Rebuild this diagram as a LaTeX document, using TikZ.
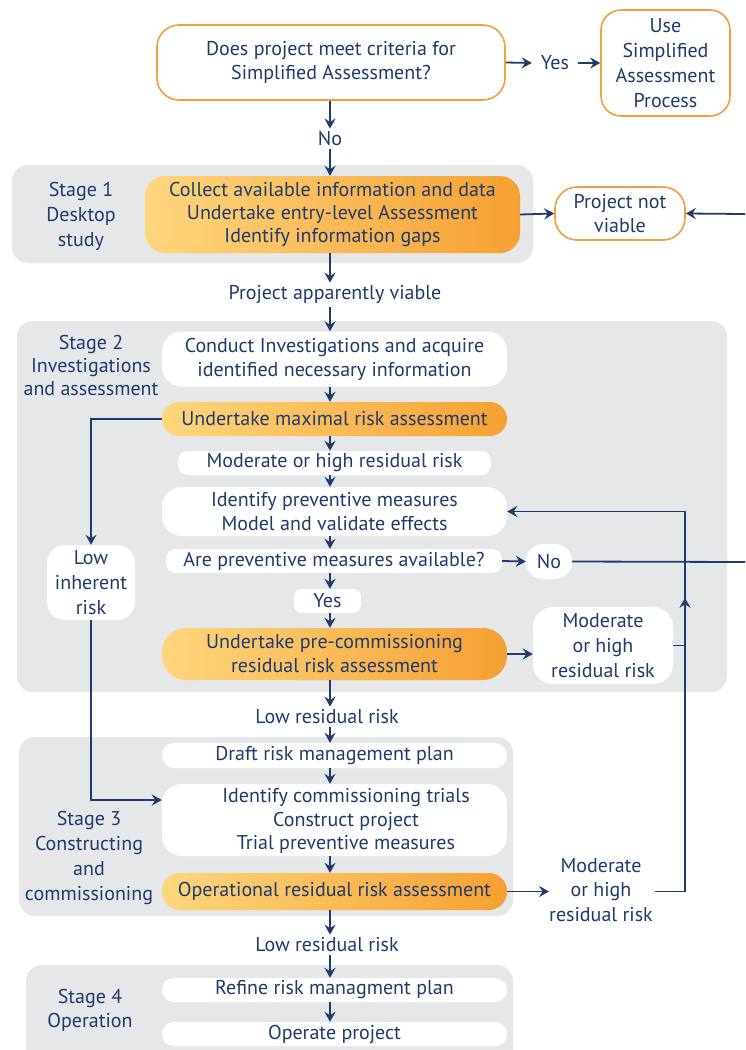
\documentclass[tikz,border=0pt]{standalone}
\usepackage{fontspec}
\setmainfont{PT Sans}
\usetikzlibrary{arrows.meta,calc}
\definecolor{navy}{RGB}{31,58,110}
\definecolor{obord}{RGB}{240,160,60}
\definecolor{stagebg}{RGB}{230,231,232}
\definecolor{gl}{RGB}{254,214,125}
\definecolor{gr}{RGB}{246,160,50}
\begin{document}
\begin{tikzpicture}[x=1pt,y=-1pt,
  font=\fontsize{20}{24}\selectfont,
  base/.style={text=navy, align=center, inner sep=0pt},
  wbox/.style={base, fill=white, rounded corners=12pt},
  obox/.style={base, fill=white, draw=obord, line width=1.6pt, rounded corners=22pt},
  gbox/.style={base, left color=gl, right color=gr, rounded corners=18pt},
  lbl/.style={base, inner sep=3pt},
  arr/.style={draw=navy, line width=1.8pt, -{Stealth[length=10pt,width=11pt,inset=3.5pt]}},
  ln/.style={draw=navy, line width=1.8pt}]
\useasboundingbox (0,0) rectangle (745,1050);
\fill[white] (0,0) rectangle (745,1050);
% stage backgrounds
\fill[stagebg, rounded corners=16pt] (12,165) rectangle (533,263);
\fill[stagebg, rounded corners=16pt] (17,321) rectangle (727,692);
\fill[stagebg, rounded corners=16pt] (19,737) rectangle (513,916);
\fill[stagebg, rounded corners=16pt] (26,965) rectangle (513,1075);
% coordinates
\coordinate (ax) at (330,0);
\coordinate (lx) at (685,0);
\coordinate (eA) at (745,214);
\coordinate (eB) at (745,562);
% top
\node[obox, minimum width=348pt, minimum height=75pt] (q) at (331,62.5) {Does project meet criteria for\\Simplified Assessment?};
\node[lbl, minimum width=46pt] (yes1) at (555,63) {Yes};
\node[obox, minimum width=129pt, minimum height=106pt, rounded corners=20pt] (use) at (665.5,63) {Use\\[1pt]Simplified\\[1pt]Assessment\\[1pt]Process};
\node[lbl] (no1) at (330,139) {No};
% stage 1
\node[base] (s1lab) at (81,216) {Stage 1\\[1pt]Desktop\\[1pt]study};
\node[gbox, minimum width=375pt, minimum height=77pt, rounded corners=20pt] (s1) at (332.5,214.5) {Collect available information and data\\[-1pt]Undertake entry-level Assessment\\[-1pt]Identify information gaps};
\node[obox, minimum width=130pt, minimum height=53pt] (pnv) at (620,213.5) {Project not\\viable};
\node[lbl] (pav) at (335,295) {Project apparently viable};
% stage 2
\node[base] (s2lab) at (91,365) {Stage 2\\[-1pt]Investigations\\[-1pt]and assessment};
\node[wbox, minimum width=345pt, minimum height=55pt, rounded corners=20pt] (conduct) at (334.5,359) {Conduct Investigations and acquire\\identified necessary information};
\node[gbox, minimum width=345pt, minimum height=34pt, rounded corners=17pt] (maximal) at (334.5,419) {Undertake maximal risk assessment};
\node[wbox, minimum width=313pt, minimum height=24pt, rounded corners=10pt] (mod1) at (334.5,463) {Moderate or high residual risk};
\node[wbox, minimum width=345pt, minimum height=49pt, rounded corners=20pt] (ident) at (334.5,511.5) {Identify preventive measures\\Model and validate effects};
\node[wbox, minimum width=336pt, minimum height=24pt, rounded corners=10pt] (avail) at (334,561) {Are preventive measures available?};
\node[wbox, minimum width=46pt, minimum height=35pt, rounded corners=17pt] (no2) at (549,561.5) {No};
\node[wbox, minimum width=67pt, minimum height=24pt, rounded corners=8pt] (yes2) at (327.5,601) {Yes};
\node[gbox, minimum width=345pt, minimum height=52pt, rounded corners=24pt] (precomm) at (334.5,654) {Undertake pre-commissioning\\residual risk assessment};
\node[wbox, minimum width=140pt, minimum height=77pt, rounded corners=20pt] (mod2) at (603,645.5) {Moderate\\[1pt]or high\\[1pt]residual risk};
\node[wbox, minimum width=88pt, minimum height=75pt, rounded corners=18pt] (lir) at (91,582.5) {Low\\[1pt]inherent\\[1pt]risk};
\node[lbl] (lrr1) at (327,717) {Low residual risk};
% stage 3
\node[base] (s3lab) at (89,858) {Stage 3\\[1pt]Constructing\\[1pt]and\\[1pt]commissioning};
\node[wbox, minimum width=345pt, minimum height=25pt, rounded corners=12pt] (draft) at (334.5,755.5) {Draft risk management plan};
\node[wbox, minimum width=345pt, minimum height=72pt, rounded corners=20pt] (constr) at (334.5,820) {};
\node[base] (constrtxt) at (346,821) {Identify commissioning trials\\[-0.5pt]Construct project\\[-0.5pt]Trial preventive measures};
\node[gbox, minimum width=345pt, minimum height=37pt, rounded corners=18pt] (oper) at (334.5,891.5) {Operational residual risk assessment};
\node[base] (mod3) at (601,890) {Moderate\\[0.5pt]or high\\[0.5pt]residual risk};
\node[lbl] (lrr2) at (327,945) {Low residual risk};
% stage 4
\node[base] (s4lab) at (90,1010) {Stage 4\\Operation};
\node[wbox, minimum width=345pt, minimum height=24pt, rounded corners=12pt] (refine) at (334.5,990) {Refine risk managment plan};
\node[wbox, minimum width=345pt, minimum height=24pt, rounded corners=12pt] (operate) at (334.5,1034) {Operate project};
% connectors
\draw[arr] (q.east) -- (yes1.west);
\draw[arr] (yes1.east) -- (use.west |- yes1.east);
\draw[arr] (q.south -| ax) -- (no1.north -| ax);
\draw[arr] (no1.south -| ax) -- (s1.north -| ax);
\draw[arr] (s1.east) -- (pnv.west);
\draw[arr] (eA) -- (pnv.east);
\draw[arr] (s1.south -| ax) -- (pav.north -| ax);
\draw[arr] (pav.south -| ax) -- (conduct.north -| ax);
\draw[arr] (conduct.south -| ax) -- (maximal.north -| ax);
\draw[arr] (maximal.south -| ax) -- (mod1.north -| ax);
\draw[arr] (mod1.south -| ax) -- (ident.north -| ax);
\draw[arr] (ident.south -| ax) -- (avail.north -| ax);
\draw[arr] (avail.south -| ax) -- (yes2.north -| ax);
\draw[arr] (yes2.south -| ax) -- (precomm.north -| ax);
\draw[arr] (avail.east) -- (no2.west);
\draw[ln] (no2.east) -- (eB);
\draw[arr] (precomm.east) -- (precomm.east -| mod2.west);
\draw[ln] (mod2.east) -- (mod2.east -| lx);
\draw[arr] (maximal.west) -| (lir.north);
\draw[arr] (lir.south) |- ($(constr.west)+(0,-20)$);
\draw[arr] (precomm.south -| ax) -- (lrr1.north -| ax);
\draw[arr] (lrr1.south -| ax) -- (draft.north -| ax);
\draw[arr] (draft.south -| ax) -- (constr.north -| ax);
\draw[arr] (constr.south -| ax) -- (oper.north -| ax);
\draw[arr] (oper.south -| ax) -- (lrr2.north -| ax);
\draw[arr] (lrr2.south -| ax) -- (refine.north -| ax);
\draw[arr] (refine.south -| ax) -- (operate.north -| ax);
\draw[arr] (oper.east) -- (oper.east -| mod3.west);
\draw[arr] ($(mod3.east |- oper.east)+(2,0)$) -- (oper.east -| lx) -- (ident.east -| lx) -- (ident.east);
\draw[arr] (lx |- mod2.east) -- ($(lx |- mod2.north)+(0,-9)$);
\end{tikzpicture}
\end{document}
